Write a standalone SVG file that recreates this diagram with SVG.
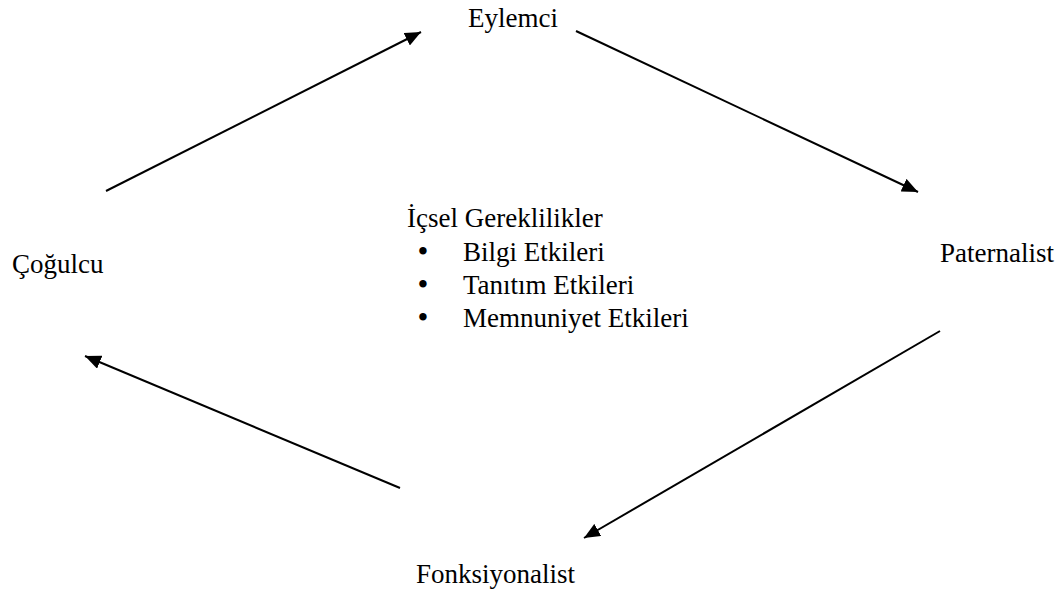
<svg xmlns="http://www.w3.org/2000/svg" width="1063" height="595" viewBox="0 0 1063 595">
  <style>
    text { font-family: 'Liberation Serif', 'Times New Roman', serif; font-size: 27px; fill: #000; }
    .bullet { font-size: 31px; }
    .edge { stroke: #000; stroke-width: 2; fill: none; marker-end: url(#head); }
  </style>
  <defs>
    <marker id="head" markerUnits="userSpaceOnUse" markerWidth="18" markerHeight="14" refX="16" refY="7" orient="auto">
      <path d="M0,0 L16,7 L0,14 Z" fill="#000"/>
    </marker>
  </defs>
  <rect width="1063" height="595" fill="#fff"/>

  <!-- cycle connectors -->
  <g id="connectors">
    <line class="edge" x1="106" y1="191" x2="421" y2="32"/>
    <line class="edge" x1="576" y1="31" x2="918" y2="192"/>
    <line class="edge" x1="940" y1="331" x2="584" y2="538"/>
    <line class="edge" x1="400" y1="488" x2="85" y2="356"/>
  </g>

  <g id="eylemci"><text x="468" y="27">Eylemci</text></g>
  <g id="paternalist"><text x="940" y="262">Paternalist</text></g>
  <g id="fonksiyonalist"><text x="416" y="583">Fonksiyonalist</text></g>
  <g id="cogulcu"><text x="12" y="273">Çoğulcu</text></g>

  <!-- central list -->
  <g id="icsel-gereklilikler">
    <text x="407" y="227">İçsel Gereklilikler</text>
    <text class="bullet" x="423" y="262" text-anchor="middle">•</text>
    <text x="463" y="261">Bilgi Etkileri</text>
    <text class="bullet" x="423" y="295" text-anchor="middle">•</text>
    <text x="463" y="294">Tanıtım Etkileri</text>
    <text class="bullet" x="423" y="328" text-anchor="middle">•</text>
    <text x="463" y="327">Memnuniyet Etkileri</text>
  </g>
</svg>
